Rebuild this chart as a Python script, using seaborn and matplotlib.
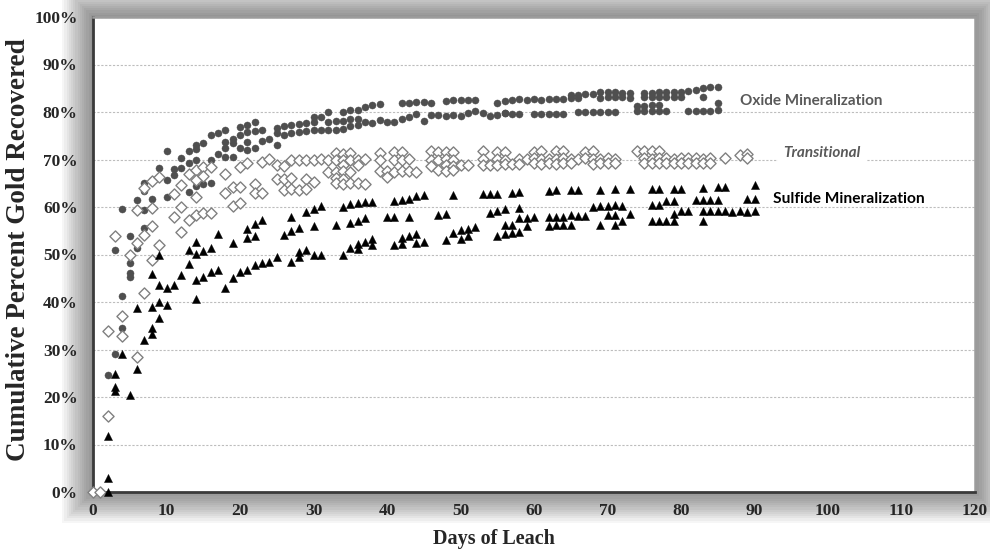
import matplotlib
matplotlib.use("Agg")
import matplotlib.pyplot as plt
from matplotlib.patches import Rectangle
from matplotlib.ticker import MultipleLocator, PercentFormatter
import pandas as pd
import seaborn as sns

# ---- values: day of leach vs cumulative % gold recovered ----

# Oxide mineralization (dark grey dots)
ox1_day = [3, 4, 6, 7, 8, 9, 10, 12, 13, 14, 15, 16, 17, 18, 20, 21, 22, 23,
           25, 26, 27, 28, 29, 30, 31, 32, 34, 35, 36, 37, 38, 39, 42, 43, 44, 45, 46,
           48, 49, 50, 51, 52, 55, 56, 57, 58, 59, 60, 61, 62, 63, 64,
           65, 66, 67, 68, 69, 70, 71, 72, 73, 75, 76, 77, 78, 79, 80, 81, 82, 83, 84, 85]
ox1_pct = [51.0, 59.6, 61.5, 65.0, 65.7, 68.2, 71.8, 70.4, 71.8, 73.0, 73.5, 75.2, 75.5, 76.2, 76.9, 77.3, 77.8, 76.2,
           76.6, 77.1, 77.3, 77.4, 77.6, 79.0, 78.9, 79.9, 80.1, 80.4, 80.4, 81.1, 81.5, 81.6, 81.8, 82.0, 82.1, 82.2, 82.0,
           82.4, 82.5, 82.5, 82.5, 82.5, 81.8, 82.4, 82.5, 82.7, 82.6, 82.7, 82.6, 82.7, 82.7, 82.7,
           83.6, 83.6, 83.8, 83.8, 84.3, 84.3, 84.3, 84.0, 84.0, 84.1, 84.1, 84.3, 84.3, 84.3, 84.3, 84.5, 84.6, 85.0, 85.2, 85.3]

ox2_day = [2, 3, 4, 5, 7, 8, 10, 11, 12, 13, 14,
           16, 17, 18, 19, 20, 21, 22, 23, 24, 25, 26, 27, 28, 29, 30,
           32, 33, 34, 35, 36, 37, 38, 39, 40, 41, 42, 43, 44, 45, 46, 47, 48, 49, 50, 51, 52, 53, 54, 55, 56,
           65, 66, 69, 70, 71, 72, 73, 75, 76, 77, 78, 79, 80, 83]
ox2_pct = [24.6, 29.1, 41.3, 53.9, 63.3, 61.7, 65.7, 68.0, 68.2, 69.3, 72.3,
           70.0, 71.2, 73.7, 74.4, 75.2, 75.8, 76.1, 73.9, 74.4, 75.5, 75.2, 75.6, 75.8, 76.1, 78.0,
           78.0, 78.1, 78.2, 78.5, 78.6, 77.9, 77.6, 78.3, 78.0, 78.0, 78.5, 78.9, 79.6, 78.2, 79.4, 79.4, 79.1, 79.4,
           79.1, 79.8, 80.3, 79.7, 79.1, 79.4, 79.7,
           82.9, 82.9, 83.0, 83.1, 83.1, 83.1, 83.0, 83.1, 83.1, 83.2, 83.2, 83.2, 83.2, 83.1]

ox3_day = [5, 7, 10, 11, 13, 14, 15, 16, 18, 19, 20, 21, 22, 25, 30, 31, 32, 33, 34, 35, 36]
ox3_pct = [46.2, 59.4, 62.2, 66.8, 63.2, 64.4, 64.8, 65.1, 70.6, 70.6, 72.4, 73.7, 72.4, 73.0,
           76.3, 76.2, 76.2, 76.3, 76.4, 77.0, 77.3]

ox4_day = [4, 5, 6, 7, 14, 18, 19, 21, 56, 57, 58, 60, 61, 62, 63, 64,
           66, 67, 68, 69, 70, 71, 74, 75, 76, 77, 78, 81, 82, 83, 84, 85]
ox4_pct = [34.6, 48.2, 51.4, 55.6, 69.8, 72.4, 73.4, 72.0, 79.7, 79.6, 79.6, 79.5, 79.5, 79.5, 79.6, 79.6,
           79.9, 79.9, 79.9, 80.0, 80.0, 80.0, 80.2, 80.2, 80.2, 80.2, 80.2, 80.3, 80.3, 80.3, 80.3, 80.4]

ox5_day = [5, 74, 75, 76, 77, 85]
ox5_pct = [45.3, 81.3, 81.3, 81.4, 81.4, 81.8]

# Transitional (open diamonds)
tr_early_day = [0, 1, 2, 2, 3, 4, 4, 5, 6, 6, 6, 7, 7, 7, 8, 8, 8, 8, 9, 9, 11, 11, 12, 12, 12,
                13, 13, 14, 14, 14, 14, 15, 15, 15, 16, 16, 18, 18, 19, 19, 20, 20, 20, 21, 22, 22, 23, 23, 24, 25]
tr_early_pct = [0.0, 0.0, 34.0, 16.0, 53.8, 37.0, 32.8, 50.0, 28.5, 52.5, 59.4, 42.0, 54.1, 64.1,
                48.8, 55.9, 59.7, 65.5, 66.3, 52.0, 57.8, 62.7, 64.6, 59.9, 54.8, 66.9, 57.2,
                67.8, 65.7, 62.2, 58.3, 68.5, 66.5, 58.7, 68.5, 58.7, 66.9, 63.0, 64.3, 60.2,
                64.3, 60.9, 68.4, 69.2, 64.8, 62.9, 69.5, 62.9, 70.1, 65.8]

tr_a_day = [33, 34, 35, 39, 41, 42, 46, 47, 48, 49, 53, 55, 56, 60, 61, 63, 64, 67, 68, 74, 75, 76, 77, 88, 89]
tr_a_pct = [71.3, 71.2, 71.4, 71.3, 71.5, 71.6, 71.7, 71.6, 71.5, 71.6, 71.7, 71.6, 71.5,
            71.6, 71.7, 71.8, 71.7, 71.6, 71.8, 71.8, 71.7, 71.8, 71.7, 71.0, 71.2]

tr_b_day = [27, 28, 29, 30, 31, 32, 33, 34, 35, 36, 37, 39, 41, 42, 43, 46, 47, 48, 49, 53, 55, 56,
            58, 59, 60, 61, 62, 63, 64, 65, 66, 67, 68, 69, 70, 71,
            75, 76, 77, 78, 79, 80, 81, 82, 83, 84, 86, 89]
tr_b_pct = [69.9, 70.0, 69.8, 69.9, 70.1, 69.9, 70.0, 69.8, 70.0, 69.9, 70.1, 69.9,
            70.0, 69.9, 70.1, 70.0, 69.9, 70.1, 70.0, 70.2, 70.1, 70.0,
            70.2, 70.1, 70.3, 70.2, 70.1, 70.2, 70.3, 70.1, 70.2, 70.3, 70.2, 70.1, 70.3, 70.2,
            70.3, 70.2, 70.4, 70.3, 70.2, 70.3, 70.4, 70.3, 70.2, 70.4, 70.3, 70.4]

tr_c_day = [25, 26, 34, 36, 46, 48, 49, 50, 51, 53, 54, 55, 56, 57, 58,
            60, 61, 62, 63, 64, 65, 68, 69, 70, 71, 75, 76, 77, 78, 79, 80, 81, 82, 83, 84]
tr_c_pct = [68.8, 68.7, 68.9, 68.8, 68.6, 68.8, 68.7, 68.9, 68.8, 68.9, 68.8, 68.9, 69.0, 69.1, 69.0,
            69.2, 69.1, 69.2, 69.1, 69.2, 69.2, 69.1, 69.2, 69.2, 69.3,
            69.2, 69.3, 69.2, 69.3, 69.3, 69.2, 69.3, 69.3, 69.2, 69.3]

tr_d_day = [32, 33, 34, 35, 39, 40, 41, 42, 43, 44, 47, 48, 49, 26, 27, 29, 33, 34, 40,
            30, 33, 34, 35, 36, 37, 26, 27, 28, 29]
tr_d_pct = [67.4, 67.3, 67.5, 67.4, 67.6, 67.5, 67.4, 67.6, 67.5, 67.4, 67.8, 67.6, 67.7,
            66.0, 66.1, 66.0, 66.2, 66.0, 66.3,
            65.2, 65.0, 64.9, 65.1, 65.0, 64.9,
            63.5, 63.7, 63.6, 63.8]

# Sulfide mineralization (black triangles)
su_early_day = [2, 2, 2, 3, 3, 3, 4, 5, 6, 6, 7, 8, 8, 8, 8, 9, 9, 9, 9, 10, 10, 11, 12, 13, 13,
                14, 14, 14, 14, 15, 15, 16, 16, 17, 17, 18, 19, 19, 20, 21, 21, 21, 22, 22, 22, 23, 23, 24, 25]
su_early_pct = [0.0, 2.9, 11.8, 24.8, 22.2, 21.2, 29.1, 20.4, 25.9, 38.7, 31.9, 33.3, 34.6, 39.0, 46.0,
                36.7, 40.1, 43.6, 49.9, 39.4, 42.9, 43.6, 45.7, 48.1, 50.9, 40.6, 44.6, 52.7, 50.1,
                45.3, 50.8, 46.4, 51.3, 46.7, 54.3, 42.9, 45.0, 52.4, 46.4, 46.8, 55.3, 53.4,
                47.8, 56.4, 53.9, 48.3, 57.3, 48.5, 49.5]

su_mid_day = [26, 27, 27, 27, 28, 28, 28, 29, 29, 30, 30, 30, 31, 31, 33, 34, 34, 35, 35, 35,
              36, 36, 36, 36, 37, 37, 37, 38, 38, 38, 40, 41, 41, 41, 42, 42, 42, 43, 43, 43,
              44, 44, 44, 45, 45, 47, 48, 48, 49, 49, 50, 50, 51, 51, 52, 53, 54, 54, 55, 55, 55, 56, 56, 56]
su_mid_pct = [54.1, 58.0, 55.0, 48.5, 55.6, 50.6, 49.4, 59.0, 51.0, 59.6, 55.9, 49.8, 60.2, 49.8,
              56.2, 60.1, 49.9, 60.6, 56.6, 51.4, 60.9, 57.0, 52.2, 51.1, 61.0, 57.7, 52.6,
              61.1, 53.2, 51.9, 57.9, 61.3, 57.9, 52.1, 61.4, 53.4, 52.3, 61.6, 58.0, 53.9,
              62.3, 54.3, 52.5, 62.5, 52.7, 58.4, 58.6, 53.1, 62.5, 54.6, 55.1, 53.2, 55.4, 53.9,
              55.8, 62.7, 62.8, 58.8, 62.8, 59.2, 54.0, 59.6, 56.2, 54.4]

su_late_day = [57, 57, 57, 58, 58, 58, 58, 59, 59, 60, 62, 62, 62, 63, 63, 63, 64, 64, 65, 65, 65,
               66, 66, 67, 68, 69, 69, 69, 70, 70, 71, 71, 71, 71, 72, 72, 73, 73, 76, 76, 76,
               77, 77, 77, 78, 78, 79, 79, 79, 79, 80, 80, 81, 82, 83, 83, 83, 83, 84, 84,
               85, 85, 85, 86, 86, 87, 88, 89, 89, 90, 90, 90]
su_late_pct = [63.0, 56.3, 54.6, 63.2, 59.8, 57.6, 54.7, 57.6, 56.0, 57.9, 63.4, 57.9, 55.9,
               63.5, 57.9, 56.2, 58.0, 56.2, 63.6, 58.3, 56.2, 63.6, 58.2, 58.2, 60.1,
               63.6, 60.3, 56.2, 60.3, 58.3, 63.8, 60.4, 58.4, 56.2, 60.3, 57.0, 63.8, 58.5,
               63.8, 60.4, 57.0, 63.8, 60.4, 57.0, 61.3, 57.0, 63.8, 61.3, 58.5, 57.0,
               63.8, 59.1, 59.1, 61.5, 63.9, 61.5, 59.1, 57.0, 61.5, 59.1,
               64.2, 61.5, 59.1, 64.2, 59.1, 59.0, 59.1, 61.7, 59.0, 64.6, 61.6, 59.1]

series_labels = ["Oxide Mineralization", "Transitional", "Sulfide Mineralization"]


def frame(days, pcts):
    d, p = [], []
    for a, b in zip(days, pcts):
        assert len(a) == len(b)
        d += a
        p += b
    return pd.DataFrame({"day": d, "pct": p})


oxide = frame([ox1_day, ox2_day, ox3_day, ox4_day, ox5_day],
              [ox1_pct, ox2_pct, ox3_pct, ox4_pct, ox5_pct])
trans = frame([tr_early_day, tr_a_day, tr_b_day, tr_c_day, tr_d_day],
              [tr_early_pct, tr_a_pct, tr_b_pct, tr_c_pct, tr_d_pct])
sulf = frame([su_early_day, su_mid_day, su_late_day],
             [su_early_pct, su_mid_pct, su_late_pct])

sns.set_style("white")
plt.rcParams["font.family"] = ["Liberation Serif", "DejaVu Serif"]

W, H = 990, 551
x0, x1, y_top, y_bot = 93, 975, 17, 492
fig = plt.figure(figsize=(W / 100, H / 100), dpi=100)
ax = fig.add_axes([x0 / W, 1 - y_bot / H, (x1 - x0) / W, (y_bot - y_top) / H])
ax.set_facecolor("white")

# soft drop shadow round the plot area
for i in range(14):
    e = (i + 1) * 2.2
    fig.add_artist(Rectangle(((x0 - e) / W, 1 - (y_bot + e) / H),
                             (x1 - x0 + 2 * e) / W, (y_bot - y_top + 2 * e) / H,
                             transform=fig.transFigure, facecolor="black",
                             edgecolor="none", alpha=0.036, zorder=-5))

sns.scatterplot(data=oxide, x="day", y="pct", ax=ax, marker="o", s=26,
                color="#4f4f4f", edgecolor="#4f4f4f", linewidth=0.3, zorder=3, clip_on=False)
sns.scatterplot(data=trans, x="day", y="pct", ax=ax, marker="D", s=32,
                facecolor="white", edgecolor="#808080", linewidth=1.0, zorder=4, clip_on=False)
sns.scatterplot(data=sulf, x="day", y="pct", ax=ax, marker="^", s=34,
                color="black", edgecolor="black", linewidth=0.3, zorder=5, clip_on=False)

ax.set_xlim(0, 120)
ax.set_ylim(0, 100)
ax.xaxis.set_major_locator(MultipleLocator(10))
ax.xaxis.set_minor_locator(MultipleLocator(5))
ax.yaxis.set_major_locator(MultipleLocator(10))
ax.yaxis.set_major_formatter(PercentFormatter(decimals=0))
ax.grid(axis="y", color="#bdbdbd", linestyle=(0, (2, 1.5)), linewidth=0.8)
ax.set_axisbelow(True)

for side in ["left", "bottom"]:
    ax.spines[side].set_color("#3a3a3a")
    ax.spines[side].set_linewidth(2)
for side in ["top", "right"]:
    ax.spines[side].set_color("#9c9c9c")
    ax.spines[side].set_linewidth(1.8)

ax.tick_params(axis="both", which="both", direction="out", length=4, width=1,
               color="#3a3a3a", labelsize=12.5, pad=7)
ax.tick_params(axis="x", which="both", length=4, pad=4)
for lab in ax.get_xticklabels() + ax.get_yticklabels():
    lab.set_fontweight("bold")

ax.set_xlabel("")
ax.set_ylabel("")
fig.text(494 / W, 1 - 539 / H, "Days of Leach", ha="center", va="center",
         fontsize=14.5, fontweight="bold")
fig.text(19 / W, 1 - 250 / H, "Cumulative Percent Gold Recovered", ha="center", va="center",
         rotation=90, fontsize=19.5, fontweight="bold")

lab_font = ["Lato", "DejaVu Sans"]
ax.text(88.0, 82.3, series_labels[0], family=lab_font, fontsize=11, fontweight="bold",
        color="#595959", va="center", ha="left")
ax.text(93.9, 71.3, series_labels[1], family=lab_font, fontsize=11, fontweight="bold",
        style="italic", color="#595959", va="center", ha="left",
        bbox=dict(facecolor="white", edgecolor="none", pad=4))
ax.text(92.5, 61.6, series_labels[2], family=lab_font, fontsize=11.2, fontweight="bold",
        color="black", va="center", ha="left")

fig.savefig("out.png", dpi=100)
